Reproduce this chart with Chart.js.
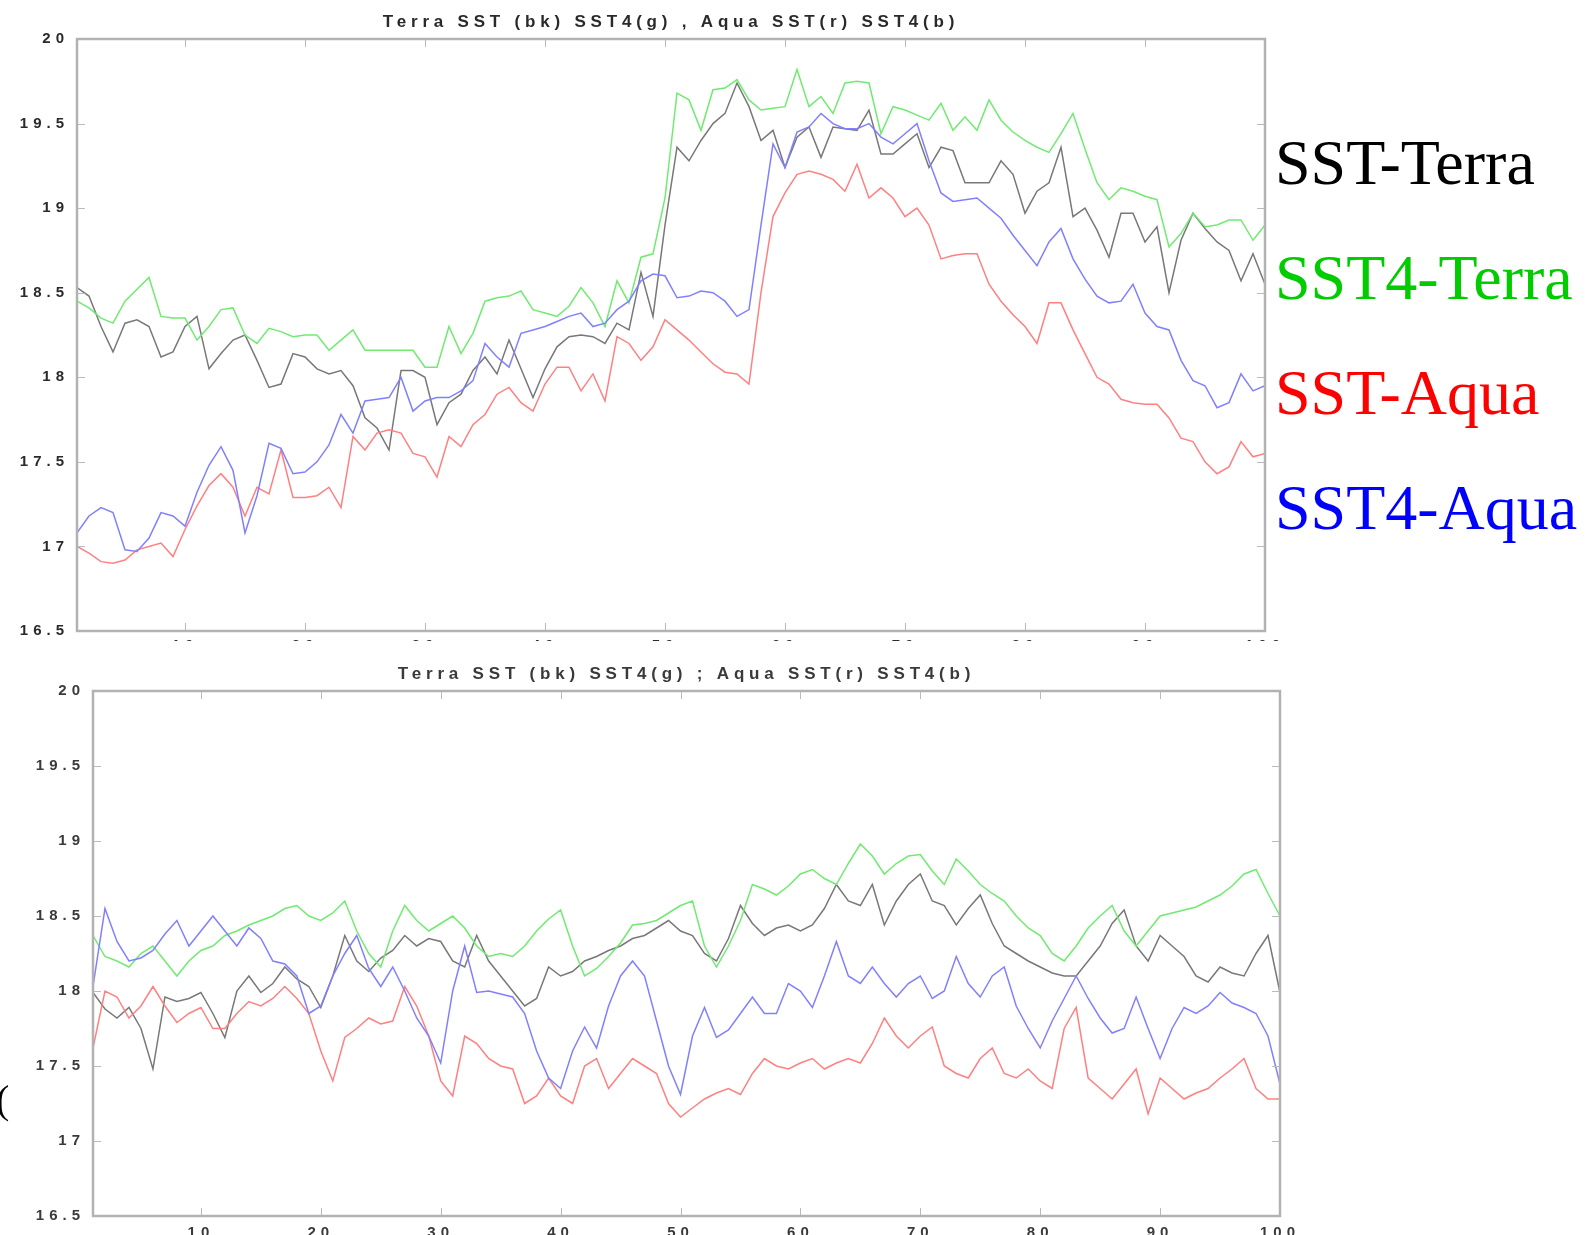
<!DOCTYPE html>
<html>
<head>
<meta charset="utf-8">
<title>Terra / Aqua SST and SST4</title>
<script src="https://cdn.jsdelivr.net/npm/chart.js@4.4.1/dist/chart.umd.min.js"></script>
<style>
  html, body { margin: 0; padding: 0; background: #fff; }
  body { width: 1596px; height: 1235px; position: relative; overflow: hidden; }
  .panel { position: absolute; }
  .panel canvas { filter: blur(0.5px); }
  .key { position: absolute; left: 1275px; font-family: "Liberation Serif", "Times New Roman", serif;
         font-size: 64px; line-height: 64px; white-space: nowrap; }
  .stray { position: absolute; left: -4px; top: 1080px; font-family: "Liberation Serif", serif;
           font-size: 40px; line-height: 40px; color: #000; }
</style>
</head>
<body>
<div class="panel" style="left:0;top:0;width:1290px;height:641px"><canvas id="topChart"></canvas></div>
<div class="panel" style="left:0;top:645px;width:1300px;height:590px"><canvas id="bottomChart"></canvas></div>

<div class="key" style="top:131px;color:#000000">SST-Terra</div>
<div class="key" style="top:246px;color:#00cc00">SST4-Terra</div>
<div class="key" style="top:361px;color:#ff0000">SST-Aqua</div>
<div class="key" style="top:476px;color:#0000ff">SST4-Aqua</div>
<div class="stray">(</div>

<script>
// sample index along the track
const days = Array.from({ length: 100 }, (_, i) => i + 1);
const xTickValues = [10, 20, 30, 40, 50, 60, 70, 80, 90, 100];
const yTickValues = [16.5, 17, 17.5, 18, 18.5, 19, 19.5, 20];
const yTickLabels = ['16.5', '17', '17.5', '18', '18.5', '19', '19.5', '20'];

const titleTop = 'Terra SST (bk) SST4(g) , Aqua SST(r) SST4(b)';
const titleBottom = 'Terra SST (bk) SST4(g) ; Aqua SST(r) SST4(b)';

// ---- upper panel ----
const topSstTerra = [
  18.53, 18.48, 18.30, 18.15, 18.32, 18.34, 18.30, 18.12, 18.15, 18.30,
  18.36, 18.05, 18.14, 18.22, 18.25, 18.10, 17.94, 17.96, 18.14, 18.12,
  18.05, 18.02, 18.04, 17.95, 17.76, 17.70, 17.57, 18.04, 18.04, 18.00,
  17.72, 17.85, 17.90, 18.04, 18.12, 18.02, 18.22, 18.05, 17.88, 18.05,
  18.18, 18.24, 18.25, 18.24, 18.20, 18.32, 18.28, 18.62, 18.36, 18.90,
  19.36, 19.28, 19.40, 19.50, 19.56, 19.74, 19.60, 19.40, 19.46, 19.24,
  19.42, 19.48, 19.30, 19.48, 19.47, 19.46, 19.58, 19.32, 19.32, 19.38,
  19.44, 19.24, 19.36, 19.34, 19.15, 19.15, 19.15, 19.28, 19.20, 18.97,
  19.10, 19.15, 19.36, 18.95, 19.00, 18.87, 18.71, 18.97, 18.97, 18.80,
  18.89, 18.50, 18.81, 18.97, 18.88, 18.80, 18.75, 18.57, 18.73, 18.55
];
const topSst4Terra = [
  18.45, 18.41, 18.35, 18.32, 18.45, 18.52, 18.59, 18.36, 18.35, 18.35,
  18.22, 18.30, 18.40, 18.41, 18.25, 18.20, 18.29, 18.27, 18.24, 18.25,
  18.25, 18.16, 18.22, 18.28, 18.16, 18.16, 18.16, 18.16, 18.16, 18.06,
  18.06, 18.30, 18.14, 18.26, 18.45, 18.47, 18.48, 18.51, 18.40, 18.38,
  18.36, 18.42, 18.53, 18.44, 18.30, 18.57, 18.44, 18.71, 18.73, 19.06,
  19.68, 19.64, 19.46, 19.70, 19.71, 19.76, 19.64, 19.58, 19.59, 19.60,
  19.82, 19.60, 19.66, 19.56, 19.74, 19.75, 19.74, 19.44, 19.60, 19.58,
  19.55, 19.52, 19.62, 19.46, 19.54, 19.46, 19.64, 19.52, 19.45, 19.40,
  19.36, 19.33, 19.44, 19.56, 19.35, 19.15, 19.05, 19.12, 19.10, 19.07,
  19.05, 18.77, 18.85, 18.97, 18.89, 18.90, 18.93, 18.93, 18.81, 18.90
];
const topSstAqua = [
  17.00, 16.96, 16.91, 16.90, 16.92, 16.98, 17.00, 17.02, 16.94, 17.10,
  17.24, 17.36, 17.43, 17.35, 17.18, 17.35, 17.31, 17.57, 17.29, 17.29,
  17.30, 17.35, 17.23, 17.65, 17.57, 17.67, 17.69, 17.67, 17.55, 17.53,
  17.41, 17.65, 17.59, 17.72, 17.78, 17.90, 17.94, 17.85, 17.80, 17.96,
  18.06, 18.06, 17.92, 18.02, 17.86, 18.24, 18.20, 18.10, 18.18, 18.34,
  18.28, 18.22, 18.15, 18.08, 18.03, 18.02, 17.96, 18.50, 18.95, 19.09,
  19.20, 19.22, 19.20, 19.17, 19.10, 19.26, 19.06, 19.12, 19.06, 18.95,
  19.00, 18.90, 18.70, 18.72, 18.73, 18.73, 18.55, 18.45, 18.37, 18.30,
  18.20, 18.44, 18.44, 18.28, 18.14, 18.00, 17.96, 17.87, 17.85, 17.84,
  17.84, 17.76, 17.64, 17.62, 17.50, 17.43, 17.47, 17.62, 17.53, 17.55
];
const topSst4Aqua = [
  17.08, 17.18, 17.23, 17.20, 16.98, 16.97, 17.05, 17.20, 17.18, 17.12,
  17.32, 17.48, 17.59, 17.45, 17.08, 17.30, 17.61, 17.58, 17.43, 17.44,
  17.50, 17.60, 17.78, 17.67, 17.86, 17.87, 17.88, 18.00, 17.80, 17.86,
  17.88, 17.88, 17.92, 17.98, 18.20, 18.12, 18.06, 18.26, 18.28, 18.30,
  18.33, 18.36, 18.38, 18.30, 18.32, 18.40, 18.45, 18.57, 18.61, 18.60,
  18.47, 18.48, 18.51, 18.50, 18.45, 18.36, 18.40, 18.90, 19.38, 19.24,
  19.45, 19.48, 19.56, 19.50, 19.47, 19.47, 19.50, 19.42, 19.38, 19.44,
  19.50, 19.28, 19.09, 19.04, 19.05, 19.06, 19.00, 18.94, 18.84, 18.75,
  18.66, 18.80, 18.88, 18.70, 18.58, 18.48, 18.44, 18.45, 18.55, 18.38,
  18.30, 18.28, 18.10, 17.98, 17.95, 17.82, 17.85, 18.02, 17.92, 17.95
];

// ---- lower panel ----
const botSstTerra = [
  17.99, 17.88, 17.82, 17.89, 17.75, 17.48, 17.96, 17.93, 17.95, 17.99,
  17.85, 17.69, 18.00, 18.10, 17.99, 18.05, 18.16, 18.08, 18.03, 17.89,
  18.10, 18.37, 18.20, 18.13, 18.22, 18.27, 18.37, 18.30, 18.35, 18.33,
  18.20, 18.16, 18.37, 18.20, 18.10, 18.00, 17.90, 17.95, 18.16, 18.10,
  18.13, 18.20, 18.23, 18.27, 18.30, 18.35, 18.37, 18.42, 18.47, 18.40,
  18.37, 18.25, 18.20, 18.35, 18.57, 18.45, 18.37, 18.42, 18.44, 18.40,
  18.44, 18.55, 18.71, 18.60, 18.57, 18.71, 18.44, 18.60, 18.71, 18.78,
  18.60, 18.57, 18.44, 18.55, 18.64, 18.45, 18.30, 18.25, 18.20, 18.16,
  18.12, 18.10, 18.10, 18.20, 18.30, 18.45, 18.54, 18.30, 18.20, 18.37,
  18.30, 18.23, 18.10, 18.06, 18.16, 18.12, 18.10, 18.25, 18.37, 17.99
];
const botSst4Terra = [
  18.37, 18.23, 18.20, 18.16, 18.25, 18.30, 18.20, 18.10, 18.20, 18.27,
  18.30, 18.37, 18.40, 18.44, 18.47, 18.50, 18.55, 18.57, 18.50, 18.47,
  18.52, 18.60, 18.40, 18.25, 18.16, 18.40, 18.57, 18.47, 18.40, 18.45,
  18.50, 18.42, 18.30, 18.23, 18.25, 18.23, 18.30, 18.40, 18.48, 18.54,
  18.30, 18.10, 18.15, 18.23, 18.32, 18.44, 18.45, 18.47, 18.52, 18.57,
  18.60, 18.30, 18.16, 18.30, 18.47, 18.71, 18.68, 18.64, 18.70, 18.78,
  18.81, 18.75, 18.71, 18.85, 18.98, 18.90, 18.78, 18.85, 18.90, 18.91,
  18.80, 18.71, 18.88, 18.80, 18.71, 18.65, 18.60, 18.50, 18.42, 18.37,
  18.25, 18.20, 18.30, 18.42, 18.50, 18.57, 18.40, 18.30, 18.40, 18.50,
  18.52, 18.54, 18.56, 18.60, 18.64, 18.70, 18.78, 18.81, 18.65, 18.50
];
const botSstAqua = [
  17.62, 18.00, 17.96, 17.82, 17.90, 18.03, 17.90, 17.79, 17.85, 17.89,
  17.75, 17.75, 17.85, 17.93, 17.90, 17.95, 18.03, 17.95, 17.85, 17.60,
  17.40, 17.69, 17.75, 17.82, 17.78, 17.80, 18.03, 17.90, 17.70, 17.40,
  17.30, 17.70, 17.65, 17.55, 17.50, 17.48, 17.25, 17.30, 17.42, 17.30,
  17.25, 17.50, 17.55, 17.35, 17.45, 17.55, 17.50, 17.45, 17.25, 17.16,
  17.22, 17.28, 17.32, 17.35, 17.31, 17.45, 17.55, 17.50, 17.48, 17.52,
  17.55, 17.48, 17.52, 17.55, 17.52, 17.65, 17.82, 17.70, 17.62, 17.70,
  17.76, 17.50, 17.45, 17.42, 17.55, 17.62, 17.45, 17.42, 17.48, 17.40,
  17.35, 17.75, 17.89, 17.42, 17.35, 17.28, 17.38, 17.48, 17.18, 17.42,
  17.35, 17.28, 17.32, 17.35, 17.42, 17.48, 17.55, 17.35, 17.28, 17.28
];
const botSst4Aqua = [
  18.03, 18.55, 18.33, 18.20, 18.22, 18.27, 18.38, 18.47, 18.30, 18.40,
  18.50, 18.40, 18.30, 18.42, 18.35, 18.20, 18.18, 18.10, 17.85, 17.90,
  18.10, 18.25, 18.37, 18.15, 18.03, 18.16, 18.00, 17.82, 17.70, 17.52,
  18.00, 18.30, 17.99, 18.00, 17.98, 17.96, 17.85, 17.60, 17.42, 17.35,
  17.60, 17.76, 17.62, 17.90, 18.10, 18.20, 18.10, 17.80, 17.50, 17.31,
  17.70, 17.89, 17.69, 17.74, 17.85, 17.96, 17.85, 17.85, 18.05, 18.00,
  17.89, 18.10, 18.33, 18.10, 18.05, 18.16, 18.05, 17.96, 18.05, 18.10,
  17.95, 18.00, 18.23, 18.05, 17.96, 18.10, 18.16, 17.90, 17.75, 17.62,
  17.80, 17.95, 18.10, 17.95, 17.82, 17.72, 17.75, 17.96, 17.75, 17.55,
  17.75, 17.89, 17.85, 17.90, 17.99, 17.92, 17.89, 17.85, 17.70, 17.38
];

const lineColors = {
  terraSst: '#787878',
  terraSst4: '#70ea70',
  aquaSst: '#ff8080',
  aquaSst4: '#8080ff'
};

function series(values, color, order) {
  return {
    data: values.map((v, i) => ({ x: days[i], y: v })),
    borderColor: color,
    borderWidth: 1.5,
    pointRadius: 0,
    tension: 0,
    fill: false,
    order: order
  };
}

// box frame, inward tick marks on all four sides and the panel title
const framePlugin = {
  id: 'matFrame',
  beforeDraw(chart) {
    chart.ctx.letterSpacing = '5px';
  },
  afterDatasetsDraw(chart, args, opts) {
    const { ctx, chartArea: a } = chart;
    const xs = chart.scales.x, ys = chart.scales.y;
    ctx.save();
    ctx.strokeStyle = opts.tickColor;
    ctx.lineWidth = 1;
    ctx.beginPath();
    xs.ticks.forEach(t => {
      const px = Math.round(xs.getPixelForValue(t.value)) + 0.5;
      ctx.moveTo(px, a.bottom); ctx.lineTo(px, a.bottom - opts.tickLen);
      ctx.moveTo(px, a.top); ctx.lineTo(px, a.top + opts.tickLen);
    });
    ys.ticks.forEach(t => {
      const py = Math.round(ys.getPixelForValue(t.value)) + 0.5;
      ctx.moveTo(a.left, py); ctx.lineTo(a.left + opts.tickLen, py);
      ctx.moveTo(a.right, py); ctx.lineTo(a.right - opts.tickLen, py);
    });
    ctx.stroke();
    ctx.strokeStyle = opts.frameColor;
    ctx.lineWidth = opts.frameWidth;
    ctx.strokeRect(a.left, a.top, a.right - a.left, a.bottom - a.top);
    ctx.fillStyle = opts.titleColor;
    ctx.font = opts.titleFont;
    ctx.letterSpacing = '4.8px';
    ctx.textAlign = 'center';
    ctx.textBaseline = 'alphabetic';
    ctx.fillText(opts.title, (a.left + a.right) / 2, a.top - opts.titleGap);
    ctx.restore();
  }
};

function buildChart(canvasId, d, cfg) {
  return new Chart(document.getElementById(canvasId), {
    type: 'line',
    data: {
      datasets: [
        series(d[0], lineColors.terraSst, 3),
        series(d[1], lineColors.terraSst4, 2),
        series(d[2], lineColors.aquaSst, 1),
        series(d[3], lineColors.aquaSst4, 0)
      ]
    },
    options: {
      responsive: true,
      maintainAspectRatio: false,
      animation: false,
      events: [],
      layout: { padding: { left: 0, right: cfg.padRight, top: cfg.padTop, bottom: 0 } },
      plugins: {
        legend: { display: false },
        tooltip: { enabled: false },
        title: { display: false },
        matFrame: {
          title: cfg.title,
          titleGap: cfg.titleGap,
          titleFont: 'bold 17px "Liberation Sans", Arial, sans-serif',
          titleColor: cfg.textColor,
          frameColor: '#b2b2b2',
          frameWidth: 2.5,
          tickColor: '#bbbbbb',
          tickLen: 8
        }
      },
      scales: {
        x: {
          type: 'linear',
          min: 1,
          max: 100,
          grid: { display: false, drawTicks: false },
          border: { display: false },
          afterBuildTicks: s => { s.ticks = xTickValues.map(v => ({ value: v })); },
          afterFit: s => {
            s.height = cfg.xAxisHeight;
            s.paddingLeft = 0; s.paddingRight = 0;
          },
          ticks: {
            autoSkip: false,
            maxRotation: 0,
            padding: cfg.xLabelPad,
            color: cfg.textColor,
            font: { family: '"Liberation Sans", Arial, sans-serif', size: 15, weight: 'bold' }
          }
        },
        y: {
          min: 16.5,
          max: 20,
          grid: { display: false, drawTicks: false },
          border: { display: false },
          afterBuildTicks: s => { s.ticks = yTickValues.map(v => ({ value: v })); },
          afterFit: s => {
            s.width = cfg.yAxisWidth;
            s.paddingTop = 0; s.paddingBottom = 0;
          },
          ticks: {
            padding: 8,
            color: cfg.textColor,
            font: { family: '"Liberation Sans", Arial, sans-serif', size: 15, weight: 'bold' },
            callback: (v, i) => yTickLabels[i]
          }
        }
      }
    },
    plugins: [framePlugin]
  });
}

buildChart('topChart', [topSstTerra, topSst4Terra, topSstAqua, topSst4Aqua], {
  title: titleTop, titleGap: 12, textColor: '#2a2a2a',
  padTop: 39, padRight: 25, yAxisWidth: 77, xAxisHeight: 10, xLabelPad: 6
});

buildChart('bottomChart', [botSstTerra, botSst4Terra, botSstAqua, botSst4Aqua], {
  title: titleBottom, titleGap: 12, textColor: '#3a3a3a',
  padTop: 46, padRight: 20, yAxisWidth: 93, xAxisHeight: 19, xLabelPad: 8
});
</script>
</body>
</html>
